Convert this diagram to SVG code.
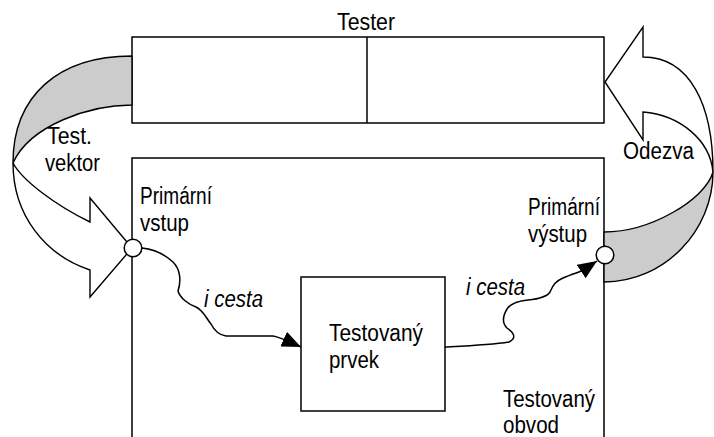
<svg xmlns="http://www.w3.org/2000/svg" width="714" height="437" viewBox="0 0 714 437">
<style>
.ln{fill:none;stroke:#000;stroke-width:1.5}
.box{fill:#fff;stroke:#000;stroke-width:1.5}
.gray{fill:#cccccc;stroke:#000;stroke-width:1.4;stroke-linejoin:round}
.front{fill:#fff;stroke:#000;stroke-width:1.4;stroke-linejoin:miter}
.port{fill:#fff;stroke:#000;stroke-width:1.5}
.wire{fill:none;stroke:#000;stroke-width:1.5;stroke-linejoin:round}
text{font-family:"Liberation Sans",Arial,sans-serif;font-size:23px;fill:#000}
.it{font-style:italic}
</style>
<defs>
<marker id="ah" markerUnits="userSpaceOnUse" markerWidth="19" markerHeight="16" viewBox="0 0 19 16" refX="19" refY="8" orient="auto">
<path d="M0,0 L19,8 L0,16 Z" fill="#000"/>
</marker>
</defs>
<rect width="714" height="437" fill="#fff"/>

<g id="tester">
<rect class="box" x="132" y="37" width="472" height="86"/>
<line class="ln" x1="367" y1="37" x2="367" y2="123"/>
<text x="337" y="30" textLength="58" lengthAdjust="spacingAndGlyphs">Tester</text>
</g>

<g id="circuit">
<path class="ln" d="M132,437 V158 H604 V437"/>
<text x="503" y="407" textLength="92" lengthAdjust="spacingAndGlyphs">Testovaný</text>
<text x="503" y="433" textLength="56" lengthAdjust="spacingAndGlyphs">obvod</text>
</g>

<g id="element">
<rect class="box" x="301" y="277" width="144" height="134"/>
<text x="329" y="341" textLength="94" lengthAdjust="spacingAndGlyphs">Testovaný</text>
<text x="329" y="368" textLength="50" lengthAdjust="spacingAndGlyphs">prvek</text>
</g>

<g id="arrow-left">
<path class="gray" d="M132,56 C58,56 13,96 13,163 C30,125 90,105 132,105 Z"/>
<path class="front" d="M13,163 C13,215 45,255 90,270 L90,297 L132,248 L90,198 L90,222 C55,205 22,180 13,163 Z"/>
<text x="47" y="144" textLength="45" lengthAdjust="spacingAndGlyphs">Test.</text>
<text x="45" y="171" textLength="55" lengthAdjust="spacingAndGlyphs">vektor</text>
</g>

<g id="arrow-right">
<path class="gray" d="M713,172 C713,230 665,282 604,282 L604,232 C650,232 705,200 713,172 Z"/>
<path class="front" d="M713,172 C713,105 690,57 643,57 L643,27 L605,82 L643,140 L643,112 C680,115 710,140 713,172 Z"/>
<text x="623" y="159" textLength="71" lengthAdjust="spacingAndGlyphs">Odezva</text>
</g>

<g id="connectors">
<path class="wire" marker-end="url(#ah)" d="M142,248 C152,249 162,252 173,262 C181,270 181,282 178,291 C180,298 188,304 196,307 C203,310 206,318 211,324 C214,330 219,335 226,336 L273,336 C280,337 290,342 301,347"/>
<path class="wire" marker-end="url(#ah)" d="M445,347 C465,346 490,345 509,342 C517,338 514,333 507,328 C501,322 504,314 507,309 C511,303 518,301 528,300 C538,299 547,297 550,292 C553,286 554,282 563,278 C572,274 580,272 586,269 C590,266 594,263 597,261"/>
<text class="it" x="204" y="307" textLength="59" lengthAdjust="spacingAndGlyphs">i cesta</text>
<text class="it" x="466" y="295" textLength="59" lengthAdjust="spacingAndGlyphs">i cesta</text>
</g>

<g id="port-in">
<circle class="port" cx="133" cy="248" r="8.8"/>
<text x="140" y="204" textLength="72" lengthAdjust="spacingAndGlyphs">Primární</text>
<text x="140" y="231" textLength="49" lengthAdjust="spacingAndGlyphs">vstup</text>
</g>

<g id="port-out">
<circle class="port" cx="605" cy="255" r="8.8"/>
<text x="528" y="215" textLength="72" lengthAdjust="spacingAndGlyphs">Primární</text>
<text x="528" y="242" textLength="59" lengthAdjust="spacingAndGlyphs">výstup</text>
</g>
</svg>
